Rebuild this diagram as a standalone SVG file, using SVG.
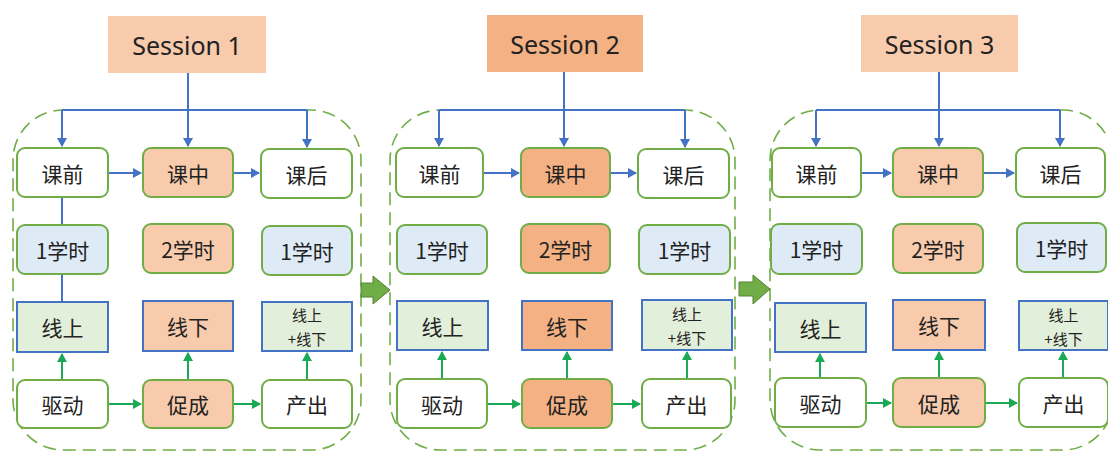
<svg xmlns="http://www.w3.org/2000/svg" width="1108" height="453" viewBox="0 0 1108 453">
<defs>
<style>
text{font-family:"Noto Sans CJK SC","Microsoft YaHei",sans-serif;fill:#222;text-anchor:middle;dominant-baseline:central}
.title{font-size:25px;font-family:"Noto Sans","Noto Sans CJK SC",sans-serif}
.lbl{font-size:21px}
.sm{font-size:15px}
.cont{fill:none;stroke:#70AD47;stroke-width:1.6;stroke-dasharray:13 7}
.rb{stroke:#70AD47;stroke-width:2}
.sq{stroke:#4472C4;stroke-width:2}
.w{fill:#fff}
.pe{fill:#F8CBAD}
.or{fill:#F4B183}
.lb{fill:#DEEBF7}
.lg{fill:#E2EFDA}
.bl{stroke:#4472C4;stroke-width:2;fill:none}
.gr{stroke:#1AAA55;stroke-width:2;fill:none}
.blk{fill:#70AD47;stroke:#548235;stroke-width:1}
</style>
<marker id="ab" markerWidth="10" markerHeight="10" refX="8" refY="5" orient="auto" markerUnits="userSpaceOnUse"><path d="M0,0 L9,5 L0,10 z" fill="#4472C4"/></marker>
<marker id="ag" markerWidth="10" markerHeight="10" refX="8" refY="5" orient="auto" markerUnits="userSpaceOnUse"><path d="M0,0 L9,5 L0,10 z" fill="#1AAA55"/></marker>
</defs>
<rect width="1108" height="453" fill="#fff"/>

<g id="containers">
<rect class="cont" x="13" y="110" width="348" height="340" rx="50"/>
<rect class="cont" x="390" y="110" width="345" height="340" rx="50"/>
<rect class="cont" x="770" y="110" width="343" height="340" rx="50"/>
</g>

<g id="connectors">
<!-- session 1 -->
<path class="bl" d="M188,73 V146" marker-end="url(#ab)"/>
<path class="bl" d="M62,110 H307"/>
<path class="bl" d="M62,110 V146" marker-end="url(#ab)"/>
<path class="bl" d="M307,110 V147" marker-end="url(#ab)"/>
<path class="bl" d="M108,173 H141" marker-end="url(#ab)"/>
<path class="bl" d="M233,173 H259" marker-end="url(#ab)"/>
<path class="bl" d="M62,197 V225 M62,274 V302"/>
<path class="gr" d="M62,380 V354" marker-end="url(#ag)"/>
<path class="gr" d="M188,380 V353" marker-end="url(#ag)"/>
<path class="gr" d="M307,380 V353" marker-end="url(#ag)"/>
<path class="gr" d="M108,404 H141" marker-end="url(#ag)"/>
<path class="gr" d="M233,404 H260" marker-end="url(#ag)"/>
<!-- session 2 -->
<path class="bl" d="M564,72 V146" marker-end="url(#ab)"/>
<path class="bl" d="M439,110 H685"/>
<path class="bl" d="M439,110 V146" marker-end="url(#ab)"/>
<path class="bl" d="M685,110 V147" marker-end="url(#ab)"/>
<path class="bl" d="M483,173 H519" marker-end="url(#ab)"/>
<path class="bl" d="M610,173 H636" marker-end="url(#ab)"/>
<path class="gr" d="M442,379 V352" marker-end="url(#ag)"/>
<path class="gr" d="M567,379 V352" marker-end="url(#ag)"/>
<path class="gr" d="M687,379 V352" marker-end="url(#ag)"/>
<path class="gr" d="M487,404 H520" marker-end="url(#ag)"/>
<path class="gr" d="M612,404 H640" marker-end="url(#ag)"/>
<!-- session 3 -->
<path class="bl" d="M939,72 V146" marker-end="url(#ab)"/>
<path class="bl" d="M816,110 H1060"/>
<path class="bl" d="M816,110 V146" marker-end="url(#ab)"/>
<path class="bl" d="M1060,110 V146" marker-end="url(#ab)"/>
<path class="bl" d="M861,173 H891" marker-end="url(#ab)"/>
<path class="bl" d="M983,173 H1014" marker-end="url(#ab)"/>
<path class="gr" d="M820,378 V354" marker-end="url(#ag)"/>
<path class="gr" d="M939,378 V352" marker-end="url(#ag)"/>
<path class="gr" d="M1063,378 V352" marker-end="url(#ag)"/>
<path class="gr" d="M866,403 H891" marker-end="url(#ag)"/>
<path class="gr" d="M985,403 H1017" marker-end="url(#ag)"/>
<!-- block arrows between sessions -->
<polygon class="blk" points="361,283 373,283 373,276 390,290 373,304 373,297 361,297"/>
<polygon class="blk" points="739,282 753,282 753,275 770,289 753,304 753,296 739,296"/>
</g>

<g id="session1">
<g id="s1-title"><rect x="108" y="16" width="158" height="57" fill="#F8CBAD"/><text class="title" x="187" y="45">Session 1</text></g>
<g id="s1-kq"><rect class="rb w" x="17" y="148" width="91" height="49" rx="8"/><text class="lbl" x="62.5" y="173">课前</text></g>
<g id="s1-kz"><rect class="rb pe" x="143" y="148" width="90" height="49" rx="8"/><text class="lbl" x="188" y="173">课中</text></g>
<g id="s1-kh"><rect class="rb w" x="261" y="149" width="91" height="49" rx="8"/><text class="lbl" x="306.5" y="174">课后</text></g>
<g id="s1-h1"><rect class="rb lb" x="17" y="225" width="91" height="49" rx="8"/><text class="lbl" x="62.5" y="250">1学时</text></g>
<g id="s1-h2"><rect class="rb pe" x="143" y="224" width="90" height="49" rx="8"/><text class="lbl" x="188" y="249">2学时</text></g>
<g id="s1-h3"><rect class="rb lb" x="262" y="226" width="90" height="49" rx="8"/><text class="lbl" x="307" y="251">1学时</text></g>
<g id="s1-xs"><rect class="sq lg" x="17" y="302" width="91" height="50"/><text class="lbl" x="62.5" y="327">线上</text></g>
<g id="s1-xx"><rect class="sq pe" x="143" y="301" width="90" height="50"/><text class="lbl" x="188" y="326">线下</text></g>
<g id="s1-xsx"><rect class="sq lg" x="262" y="302" width="90" height="49"/><text class="sm" x="307" y="314">线上</text><text class="sm" x="307" y="338">+线下</text></g>
<g id="s1-qd"><rect class="rb w" x="17" y="380" width="91" height="48" rx="8"/><text class="lbl" x="62.5" y="404">驱动</text></g>
<g id="s1-cc"><rect class="rb pe" x="143" y="380" width="90" height="48" rx="8"/><text class="lbl" x="188" y="404">促成</text></g>
<g id="s1-cch"><rect class="rb w" x="262" y="380" width="90" height="48" rx="8"/><text class="lbl" x="307" y="404">产出</text></g>
</g>

<g id="session2">
<g id="s2-title"><rect x="487" y="15" width="156" height="57" fill="#F4B183"/><text class="title" x="565" y="44">Session 2</text></g>
<g id="s2-kq"><rect class="rb w" x="396" y="148" width="87" height="49" rx="8"/><text class="lbl" x="439.5" y="173">课前</text></g>
<g id="s2-kz"><rect class="rb or" x="521" y="148" width="89" height="49" rx="8"/><text class="lbl" x="565.5" y="173">课中</text></g>
<g id="s2-kh"><rect class="rb w" x="638" y="149" width="91" height="49" rx="8"/><text class="lbl" x="683.5" y="174">课后</text></g>
<g id="s2-h1"><rect class="rb lb" x="397" y="225" width="90" height="49" rx="8"/><text class="lbl" x="442" y="250">1学时</text></g>
<g id="s2-h2"><rect class="rb or" x="521" y="224" width="89" height="49" rx="8"/><text class="lbl" x="565.5" y="249">2学时</text></g>
<g id="s2-h3"><rect class="rb lb" x="639" y="225" width="91" height="49" rx="8"/><text class="lbl" x="684.5" y="250">1学时</text></g>
<g id="s2-xs"><rect class="sq lg" x="397" y="301" width="91" height="49"/><text class="lbl" x="442.5" y="326">线上</text></g>
<g id="s2-xx"><rect class="sq or" x="522" y="301" width="90" height="49"/><text class="lbl" x="567" y="326">线下</text></g>
<g id="s2-xsx"><rect class="sq lg" x="642" y="300" width="90" height="50"/><text class="sm" x="687" y="313">线上</text><text class="sm" x="687" y="337">+线下</text></g>
<g id="s2-qd"><rect class="rb w" x="397" y="379" width="90" height="49" rx="8"/><text class="lbl" x="442" y="404">驱动</text></g>
<g id="s2-cc"><rect class="rb or" x="522" y="379" width="90" height="49" rx="8"/><text class="lbl" x="567" y="404">促成</text></g>
<g id="s2-cch"><rect class="rb w" x="642" y="379" width="89" height="49" rx="8"/><text class="lbl" x="686.5" y="404">产出</text></g>
</g>

<g id="session3">
<g id="s3-title"><rect x="861" y="15" width="157" height="57" fill="#F8CBAD"/><text class="title" x="939.5" y="44">Session 3</text></g>
<g id="s3-kq"><rect class="rb w" x="772" y="148" width="89" height="49" rx="8"/><text class="lbl" x="816.5" y="173">课前</text></g>
<g id="s3-kz"><rect class="rb pe" x="893" y="148" width="90" height="49" rx="8"/><text class="lbl" x="938" y="173">课中</text></g>
<g id="s3-kh"><rect class="rb w" x="1016" y="148" width="89" height="49" rx="8"/><text class="lbl" x="1060.5" y="173">课后</text></g>
<g id="s3-h1"><rect class="rb lb" x="771" y="224" width="91" height="50" rx="8"/><text class="lbl" x="816.5" y="249">1学时</text></g>
<g id="s3-h2"><rect class="rb pe" x="893" y="224" width="90" height="49" rx="8"/><text class="lbl" x="938" y="249">2学时</text></g>
<g id="s3-h3"><rect class="rb lb" x="1017" y="223" width="89" height="49" rx="8"/><text class="lbl" x="1061.5" y="248">1学时</text></g>
<g id="s3-xs"><rect class="sq lg" x="775" y="303" width="91" height="49"/><text class="lbl" x="820.5" y="328">线上</text></g>
<g id="s3-xx"><rect class="sq pe" x="893" y="300" width="92" height="50"/><text class="lbl" x="939" y="325">线下</text></g>
<g id="s3-xsx"><rect class="sq lg" x="1019" y="301" width="89" height="49"/><text class="sm" x="1063.5" y="314">线上</text><text class="sm" x="1063.5" y="338">+线下</text></g>
<g id="s3-qd"><rect class="rb w" x="775" y="378" width="91" height="49" rx="8"/><text class="lbl" x="820.5" y="403">驱动</text></g>
<g id="s3-cc"><rect class="rb pe" x="893" y="378" width="92" height="49" rx="8"/><text class="lbl" x="939" y="403">促成</text></g>
<g id="s3-cch"><rect class="rb w" x="1019" y="378" width="89" height="49" rx="8"/><text class="lbl" x="1063.5" y="403">产出</text></g>
</g>
</svg>
